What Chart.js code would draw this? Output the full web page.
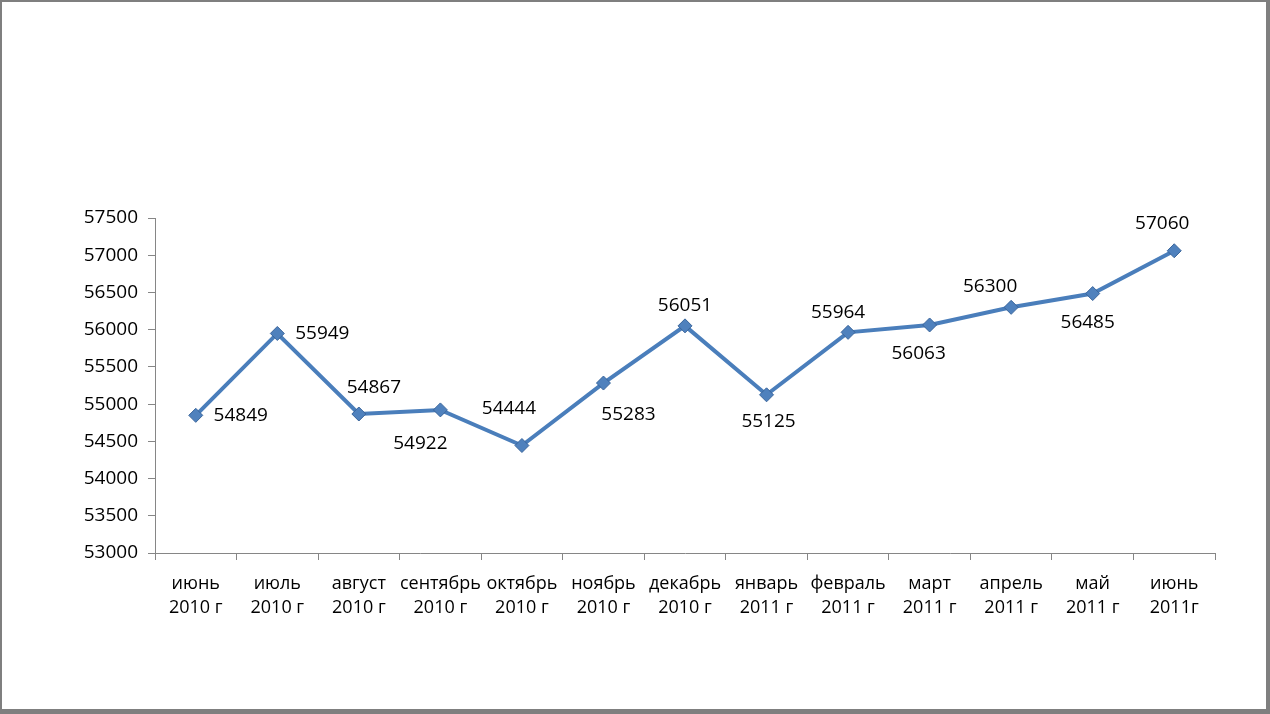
<!DOCTYPE html>
<html>
<head>
<meta charset="utf-8">
<script src="https://cdn.jsdelivr.net/npm/chart.js@4.4.1/dist/chart.umd.min.js"></script>
<style>
  html, body { margin: 0; padding: 0; background: #fff; }
  #frame {
    position: absolute; left: 0; top: 0;
    width: 1264px; height: 707px;
    border-left: 2px solid #7f7f7f; border-top: 2px solid #7f7f7f;
    border-right: 4px solid #7f7f7f; border-bottom: 5px solid #7f7f7f;
  }
  #wrap { position: absolute; left: 0; top: 0; width: 1270px; height: 714px; }
</style>
</head>
<body>
<div id="frame"></div>
<div id="wrap"><canvas id="chart" width="1270" height="714"></canvas></div>
<script>
const months = [
  ["июнь", "2010 г"], ["июль", "2010 г"], ["август", "2010 г"], ["сентябрь", "2010 г"],
  ["октябрь", "2010 г"], ["ноябрь", "2010 г"], ["декабрь", "2010 г"], ["январь", "2011 г"],
  ["февраль", "2011 г"], ["март", "2011 г"], ["апрель", "2011 г"], ["май", "2011 г"],
  ["июнь", "2011г"],
];
const values = [54849, 55949, 54867, 54922, 54444, 55283, 56051, 55125, 55964, 56063, 56300, 56485, 57060];
const yMin = 53000;
const yMax = 57500;
const yStep = 500;

// where each value label sits relative to its point (px)
const labelOffsets = [
  [45, 0], [45, 0], [15, -26], [-20, 34], [-13, -37], [25, 32], [0, -20],
  [2, 27], [-10, -20], [-11, 29], [-21, -21], [-5, 29], [-12, -27],
];

const FAMILY = "'Open Sans', 'Noto Sans', sans-serif";
const FONT = { family: FAMILY, size: 19 };
const AXIS = "#868686";

const valueLabels = {
  id: "valueLabels",
  afterDatasetsDraw(chart) {
    const { ctx } = chart;
    const meta = chart.getDatasetMeta(0);
    ctx.save();
    ctx.font = `${FONT.size}px ${FONT.family}`;
    ctx.fillStyle = "#000";
    ctx.textAlign = "center";
    ctx.textBaseline = "middle";
    meta.data.forEach((pt, i) => {
      const [dx, dy] = labelOffsets[i];
      ctx.fillText(String(values[i]), pt.x + dx, pt.y + dy);
    });
    ctx.restore();
  },
};

new Chart(document.getElementById("chart").getContext("2d"), {
  type: "line",
  data: {
    labels: months,
    datasets: [{
      data: values,
      borderColor: "#4a7ebb",
      borderWidth: 4,
      tension: 0,
      pointStyle: "rectRot",
      pointRadius: 7,
      pointBackgroundColor: "#4f81bd",
      pointBorderColor: "#3a659b",
      pointBorderWidth: 1,
    }],
  },
  options: {
    responsive: false,
    animation: false,
    layout: { padding: { top: 218, right: 55, bottom: 60, left: 0 } },
    plugins: { legend: { display: false }, tooltip: { enabled: false } },
    scales: {
      x: {
        offset: true,
        grid: { display: true, drawOnChartArea: false, offset: true, tickLength: 7, color: AXIS },
        border: { display: true, color: AXIS, width: 1 },
        ticks: {
          color: "#000",
          font: { family: FAMILY, size: 18, lineHeight: 1.33 },
          maxRotation: 0, autoSkip: false, padding: 12,
        },
        afterFit(scale) { scale.height = 101; },
      },
      y: {
        min: yMin,
        max: yMax,
        grid: { display: true, drawOnChartArea: false, tickLength: 7, color: AXIS },
        border: { display: true, color: AXIS, width: 1 },
        ticks: {
          stepSize: yStep, color: "#000", font: FONT, padding: 10,
          callback: (v) => String(v),
        },
        afterFit(scale) { scale.width = 155; },
      },
    },
  },
  plugins: [valueLabels],
});
</script>
</body>
</html>
